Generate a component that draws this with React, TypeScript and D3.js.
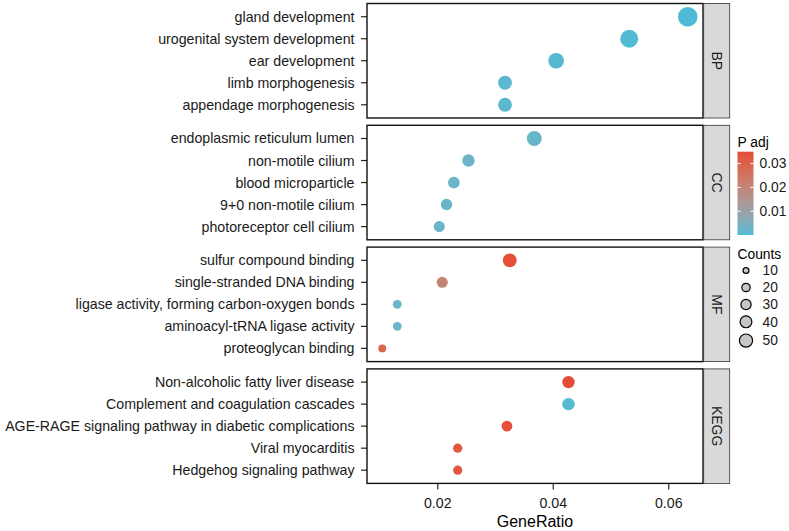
import * as d3 from "d3"

// enrichment terms per ontology, listed top to bottom
const categories = ["BP", "CC", "MF", "KEGG"]

const bpTerms = ["gland development", "urogenital system development", "ear development", "limb morphogenesis", "appendage morphogenesis"]
const bpCounts = [50, 42, 32, 25, 25]
const bpPadj = [0.00002, 0.0003, 0.0008, 0.0012, 0.0012]

const ccTerms = ["endoplasmic reticulum lumen", "non-motile cilium", "blood microparticle", "9+0 non-motile cilium", "photoreceptor cell cilium"]
const ccCounts = [29, 20, 18, 17, 16]
const ccPadj = [0.0022, 0.0028, 0.0026, 0.0026, 0.0028]

const mfTerms = ["sulfur compound binding", "single-stranded DNA binding", "ligase activity, forming carbon-oxygen bonds", "aminoacyl-tRNA ligase activity", "proteoglycan binding"]
const mfCounts = [25, 16, 10, 10, 8]
const mfPadj = [0.0345, 0.0205, 0.0025, 0.0025, 0.029]

const keggTerms = ["Non-alcoholic fatty liver disease", "Complement and coagulation cascades", "AGE-RAGE signaling pathway in diabetic complications", "Viral myocarditis", "Hedgehog signaling pathway"]
const keggCounts = [20, 20, 15, 11, 11]
const keggPadj = [0.035, 0.0006, 0.034, 0.033, 0.033]

// annotated input genes per category (GeneRatio denominator)
const categoryTotals = [790, 790, 770, 469]

const xTicks = [0.02, 0.04, 0.06]
const padjTicks = [0.01, 0.02, 0.03]
const countBreaks = [10, 20, 30, 40, 50]

const W = 789
const H = 531
const FONT = "'Liberation Sans', Arial, Helvetica, sans-serif"

const panelLeft = 367
const panelRight = 703
const stripW = 26
const panelTop = 3.5
const panelH = 114.5
const panelGap = 7.3

export default function App() {
  const termSets = [bpTerms, ccTerms, mfTerms, keggTerms]
  const countSets = [bpCounts, ccCounts, mfCounts, keggCounts]
  const padjSets = [bpPadj, ccPadj, mfPadj, keggPadj]

  const panels = categories.map((cat, i) => ({
    cat,
    top: panelTop + i * (panelH + panelGap),
    rows: termSets[i].map((term, j) => ({
      term,
      count: countSets[i][j],
      padj: padjSets[i][j],
      ratio: countSets[i][j] / categoryTotals[i],
    })),
  }))
  const all = panels.flatMap((p) => p.rows)

  const [rMin, rMax] = d3.extent(all, (d) => d.ratio) as [number, number]
  const pad = (rMax - rMin) * 0.05
  const x = d3.scaleLinear().domain([rMin - pad, rMax + pad]).range([panelLeft, panelRight])

  const [pMin, pMax] = d3.extent(all, (d) => d.padj) as [number, number]
  const color = d3
    .scaleLinear<string>()
    .domain([pMin, pMax])
    .range(["#4DBBD5", "#E64B35"])
    .interpolate(d3.interpolateLab)

  const size = d3.scaleSqrt().domain([0, 50]).range([0, 9.8])
  const keySize = d3.scaleSqrt().domain([0, 50]).range([0, 6.6])

  // colourbar geometry
  const barX = 737.5
  const barW = 16
  const barTop = 151.7
  const barBottom = 235
  const barY = d3.scaleLinear().domain([pMin, pMax]).range([barBottom, barTop])
  const gradStops = d3.range(0, 1.0001, 0.05)

  // size legend key positions, taller keys for bigger points
  let cy = 270.5
  const keys = countBreaks.map((c, i) => {
    if (i > 0) {
      const hPrev = Math.max(17, 3 * keySize(countBreaks[i - 1]))
      const hCur = Math.max(17, 3 * keySize(c))
      cy += (hPrev + hCur) / 2
    }
    return { c, cy }
  })

  const bottom = panels[panels.length - 1].top + panelH

  return (
    <svg width={W} height={H} style={{ position: "absolute", left: 0, top: 0, background: "#fff" }} fontFamily={FONT}>
      <defs>
        <linearGradient id="padjGrad" x1="0" y1="1" x2="0" y2="0">
          {gradStops.map((t) => (
            <stop key={t} offset={t} stopColor={color(pMin + t * (pMax - pMin))} />
          ))}
        </linearGradient>
      </defs>

      {panels.map((p) => {
        const y = d3
          .scalePoint<string>()
          .domain(p.rows.map((d) => d.term))
          .range([p.top, p.top + panelH])
          .padding(0.6)
        return (
          <g key={p.cat}>
            <rect x={panelLeft} y={p.top} width={panelRight - panelLeft} height={panelH} fill="#fff" />
            {p.rows.map((d) => (
              <g key={d.term}>
                <line x1={panelLeft - 6} x2={panelLeft} y1={y(d.term)} y2={y(d.term)} stroke="#222" strokeWidth={1.2} />
                <text x={panelLeft - 12.5} y={y(d.term)} dy="0.35em" textAnchor="end" fontSize={14.2} fill="#1a1a1a">
                  {d.term}
                </text>
              </g>
            ))}
            {p.rows.map((d) => (
              <circle key={d.term} cx={x(d.ratio)} cy={y(d.term)} r={size(d.count)} fill={color(d.padj)} />
            ))}
            <rect x={panelLeft} y={p.top} width={panelRight - panelLeft} height={panelH} fill="none" stroke="#111" strokeWidth={1.4} />
            <rect x={panelRight + 0.7} y={p.top} width={stripW} height={panelH} fill="#D9D9D9" stroke="#333" strokeWidth={0.8} />
            <text
              transform={`translate(${panelRight + 0.7 + stripW / 2},${p.top + panelH / 2}) rotate(90)`}
              textAnchor="middle"
              dy="0.35em"
              fontSize={14}
              fill="#1a1a1a"
            >
              {p.cat}
            </text>
          </g>
        )
      })}

      {/* x axis */}
      <g>
        {xTicks.map((t) => (
          <g key={t}>
            <line x1={x(t)} x2={x(t)} y1={bottom} y2={bottom + 6} stroke="#222" strokeWidth={1.2} />
            <text x={x(t)} y={bottom + 24.5} textAnchor="middle" fontSize={14.2} fill="#1a1a1a">
              {d3.format(".2f")(t)}
            </text>
          </g>
        ))}
        <text x={(panelLeft + panelRight) / 2} y={bottom + 43.5} textAnchor="middle" fontSize={16} fill="#000">
          GeneRatio
        </text>
      </g>

      {/* colour legend */}
      <g>
        <text x={barX} y={147} fontSize={13.8} fill="#000">
          P adj
        </text>
        <rect x={barX} y={barTop} width={barW} height={barBottom - barTop} fill="url(#padjGrad)" />
        {padjTicks.map((t) => (
          <g key={t}>
            <line x1={barX} x2={barX + 3.2} y1={barY(t)} y2={barY(t)} stroke="#fff" strokeWidth={1} />
            <line x1={barX + barW - 3.2} x2={barX + barW} y1={barY(t)} y2={barY(t)} stroke="#fff" strokeWidth={1} />
            <text x={barX + barW + 6} y={barY(t)} dy="0.35em" fontSize={13.8} fill="#1a1a1a">
              {d3.format(".2f")(t)}
            </text>
          </g>
        ))}
      </g>

      {/* size legend */}
      <g>
        <text x={barX} y={259} fontSize={13.8} fill="#000">
          Counts
        </text>
        {keys.map((k) => (
          <g key={k.c}>
            <circle cx={746} cy={k.cy} r={keySize(k.c)} fill="#C6C6C6" stroke="#000" strokeWidth={1.2} />
            <text x={762.5} y={k.cy} dy="0.35em" fontSize={13.8} fill="#1a1a1a">
              {k.c}
            </text>
          </g>
        ))}
      </g>
    </svg>
  )
}
